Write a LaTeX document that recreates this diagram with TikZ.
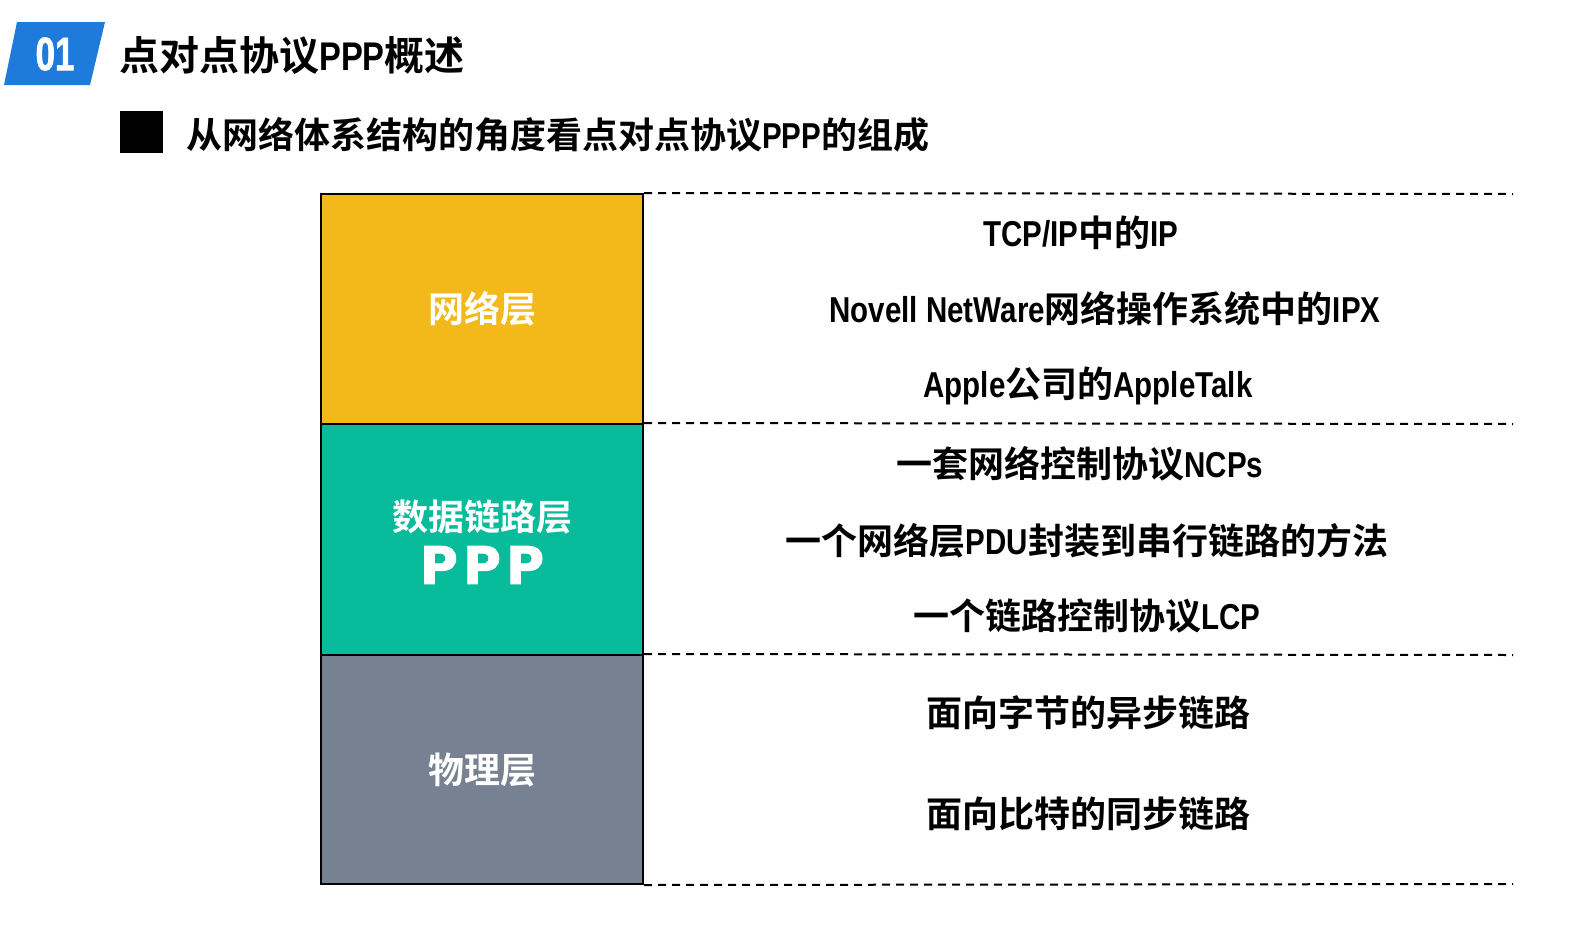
\documentclass[tikz,border=0pt]{standalone}
\usepackage{fontspec}
\newfontfamily\cjkb{Noto Sans CJK SC}[UprightFont=* Bold]
\newfontfamily\narrowb{Liberation Sans}[UprightFont=* Bold, FakeStretch=0.82]
\newfontfamily\numf{Liberation Sans}[UprightFont=* Bold, FakeStretch=0.74, FakeBold=1.5]
\newfontfamily\wideb{DejaVu Sans}[UprightFont=* Bold, FakeBold=1.5]
\newcommand\lat[1]{{\narrowb #1}}
\definecolor{netc}{RGB}{243,185,26}
\definecolor{dlc}{RGB}{8,187,155}
\definecolor{phyc}{RGB}{118,130,146}
\definecolor{bluec}{RGB}{30,123,219}
\tikzset{
  layerbox/.style={draw=black, line width=2pt, minimum width=322pt, inner sep=0pt},
  boxlabel/.style={text=white, font=\cjkb\fontsize{36}{40}\selectfont, inner sep=0pt},
  desc/.style={text=black, font=\cjkb\fontsize{36}{40}\selectfont, inner sep=0pt, anchor=center},
  dashline/.style={draw=black, line width=2pt, dash pattern=on 8pt off 6pt},
}
\begin{document}
\begin{tikzpicture}[x=1pt,y=-1pt]
\useasboundingbox (0,0) rectangle (1579,940);
% header
\fill[bluec] (17,22) -- (105,22) -- (90,85) -- (4,85) -- cycle;
\node[text=white, font=\numf\fontsize{47}{50}\selectfont, inner sep=0pt] (num) at (55,54) {01};
\node[anchor=west, font=\cjkb\fontsize{40}{44}\selectfont, inner sep=0pt] (title) at (119,56) {点对点协议\lat{PPP}概述};
\fill[black] (120,111) rectangle (163,153);
\node[anchor=west, font=\cjkb\fontsize{36}{40}\selectfont, inner sep=0pt] (subtitle) at (186,135) {从网络体系结构的角度看点对点协议\lat{PPP}的组成};
% layer boxes
\node[layerbox, fill=netc, minimum height=230pt] (net) at (482,309) {};
\node[layerbox, fill=dlc, minimum height=231pt] (dl) at (482,539.5) {};
\node[layerbox, fill=phyc, minimum height=229pt] (phy) at (482,769.5) {};
\node[boxlabel] (netlab) at (482,309) {网络层};
\node[boxlabel] (dllab) at (482,517) {数据链路层};
\node[text=white, font=\wideb\fontsize{52}{56}\selectfont, inner sep=0pt] (ppp) at (482,565) {P\hspace{5pt}P\hspace{5pt}P};
\node[boxlabel] (phylab) at (482,770) {物理层};
% dashed lines
\coordinate (e1) at (1513,194);
\coordinate (e2) at (1513,424);
\coordinate (e3) at (1513,655);
\coordinate (e4) at (1513,884);
\draw[dashline] (net.north east) -- (e1);
\draw[dashline] (dl.north east) -- (e2);
\draw[dashline] (phy.north east) -- (e3);
\draw[dashline] (phy.south east) -- (e4);
% descriptions
\node[desc] (d1) at (1081,233) {\lat{TCP/IP}中的\lat{IP}};
\node[desc] (d2) at (1105,309) {\lat{Novell NetWare}网络操作系统中的\lat{IPX}};
\node[desc] (d3) at (1088,386) {\lat{Apple}公司的\lat{AppleTalk}};
\node[desc] (d4) at (1080,464) {一套网络控制协议\lat{NCPs}};
\node[desc] (d5) at (1087,541) {一个网络层\lat{PDU}封装到串行链路的方法};
\node[desc] (d6) at (1087,616) {一个链路控制协议\lat{LCP}};
\node[desc] (d7) at (1088,713) {面向字节的异步链路};
\node[desc] (d8) at (1088,814) {面向比特的同步链路};
\end{tikzpicture}
\end{document}
